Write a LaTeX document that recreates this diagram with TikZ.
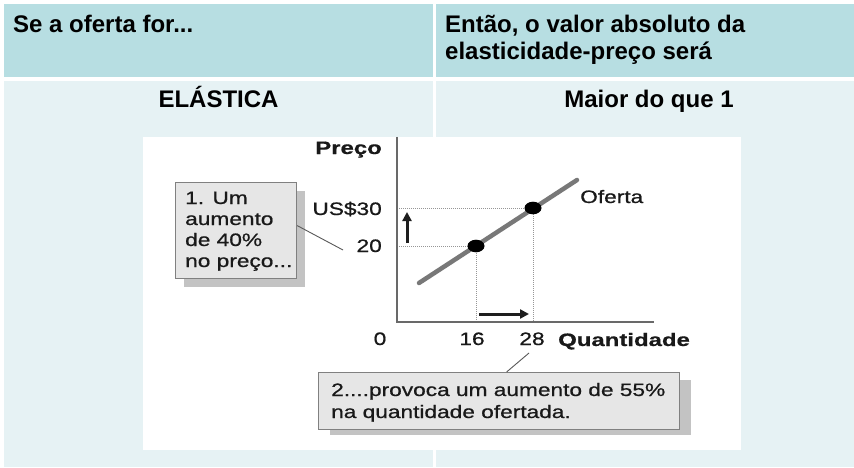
\documentclass[tikz,border=0pt]{standalone}
\usepackage{fontspec}
\setmainfont{Liberation Sans}
\newfontfamily\gfont[FakeStretch=1.26,FakeBold=0.8]{Liberation Sans}
\newfontfamily\gbfont[FakeStretch=1.33,FakeBold=0.6]{Liberation Sans}
\usetikzlibrary{shapes.geometric,arrows.meta}
\definecolor{hdr}{RGB}{183,222,226}
\definecolor{rowc}{RGB}{230,242,244}
\definecolor{boxfill}{RGB}{230,230,230}
\definecolor{boxline}{RGB}{128,128,128}
\definecolor{shad}{RGB}{195,195,195}
\definecolor{axisc}{RGB}{105,105,105}
\definecolor{supc}{RGB}{120,120,120}
\definecolor{dotc}{RGB}{150,150,150}
\definecolor{arrc}{RGB}{30,30,30}
\begin{document}
\begin{tikzpicture}[x=1pt,y=-1pt,
  hdrtext/.style={font=\fontsize{24}{27}\selectfont\bfseries, inner sep=0, anchor=base west},
  gtext/.style={font=\gfont\fontsize{18}{21}\selectfont, inner sep=0, text=black!90},
  gbtext/.style={font=\gbfont\fontsize{18}{21}\selectfont\bfseries, inner sep=0, text=black!90},
  notebox/.style={draw=boxline, line width=1.2pt, fill=boxfill, inner sep=0, anchor=north west},
  leader/.style={draw=black!65, line width=0.9pt},
  guide/.style={draw=dotc, line width=0.8pt, dash pattern=on 1pt off 1pt},
  axisline/.style={draw=axisc, line width=2.2pt},
  shiftarrow/.style={draw=arrc, line width=3pt, -{Triangle[length=9pt,width=9pt]}},
  pointdot/.style={ellipse, fill=black, inner sep=0, minimum width=17pt, minimum height=12.6pt}]
\useasboundingbox (0,0) rectangle (854,468);
\fill[white] (0,0) rectangle (854,468);
% table cells
\fill[hdr] (4,4) rectangle (433,77);
\fill[hdr] (436,4) rectangle (854,77);
\fill[rowc] (4,81) rectangle (433,467);
\fill[rowc] (436,81) rectangle (854,467);
\fill[white] (143,137) rectangle (741,450);
% header texts
\node[hdrtext] (h1) at (13,33) {Se a oferta for...};
\node[hdrtext] (h2) at (445,33) {Então, o valor absoluto da};
\node[hdrtext] (h3) at (445,60) {elasticidade-preço será};
\node[hdrtext, anchor=base] (el) at (218.5,108) {ELÁSTICA};
\node[hdrtext, anchor=base] (mq) at (649,108) {Maior do que 1};
% axes
\coordinate (ytop) at (397,137);
\coordinate (org) at (397,322);
\coordinate (xend) at (654,322);
% points
\coordinate (p1) at (476,246);
\coordinate (p2) at (533,208);
\coordinate (y20) at (399,246);
\coordinate (y30) at (399,208);
\coordinate (x16) at (476,321);
\coordinate (x28) at (533,321);
\draw[guide] (y30) -- (p2) -- (x28);
\draw[guide] (y20) -- (p1) -- (x16);
\draw[axisline] (ytop) -- (org) -- (xend);
% supply curve
\coordinate (s1) at (419,283);
\coordinate (s2) at (577,180);
\draw[supc, line width=4.5pt, line cap=round] (s1) -- (s2);
\node[pointdot] (d1) at (p1) {};
\node[pointdot] (d2) at (p2) {};
% arrows
\coordinate (ua1) at (407,243);
\coordinate (ua2) at (407,212);
\draw[shiftarrow] (ua1) -- (ua2);
\coordinate (ra1) at (479,314);
\coordinate (ra2) at (529,314);
\draw[shiftarrow] (ra1) -- (ra2);
% axis labels
\node[gbtext, anchor=base east] (lp) at (382,154) {Preço};
\node[gtext, anchor=base east] (l30) at (382,215) {US\$30};
\node[gtext, anchor=base east] (l20) at (382,252) {20};
\node[gtext, anchor=base west] (of) at (580,203) {Oferta};
\node[gtext, anchor=base] (l0) at (380,345) {0};
\node[gtext, anchor=base] (l16) at (472,345) {16};
\node[gtext, anchor=base] (l28) at (532,345) {28};
\node[gbtext, anchor=base west] (lq) at (558,346) {Quantidade};
% box 1
\fill[shad] (184,191) rectangle (305,287);
\node[notebox, minimum width=121pt, minimum height=96pt] (b1) at (175,182) {};
\node[gtext, anchor=base west] (t11) at (185,204) {1. Um};
\node[gtext, anchor=base west] (t12) at (185,225) {aumento};
\node[gtext, anchor=base west] (t13) at (185,246) {de 40\%};
\node[gtext, anchor=base west] (t14) at (185,267) {no preço...};
\coordinate (c20) at (343,250);
\draw[leader] ([yshift=5pt]b1.east) -- (c20);
% box 2
\fill[shad] (330,380) rectangle (691,435);
\node[notebox, minimum width=361pt, minimum height=57pt] (b2) at (318,372) {};
\node[gtext, anchor=base west] (t21) at (331,396) {2....provoca um aumento de 55\%};
\node[gtext, anchor=base west] (t22) at (331,418) {na quantidade ofertada.};
\coordinate (c28) at (529,353);
\draw[leader] ([xshift=7.5pt]b2.north) -- (c28);
\end{tikzpicture}
\end{document}
